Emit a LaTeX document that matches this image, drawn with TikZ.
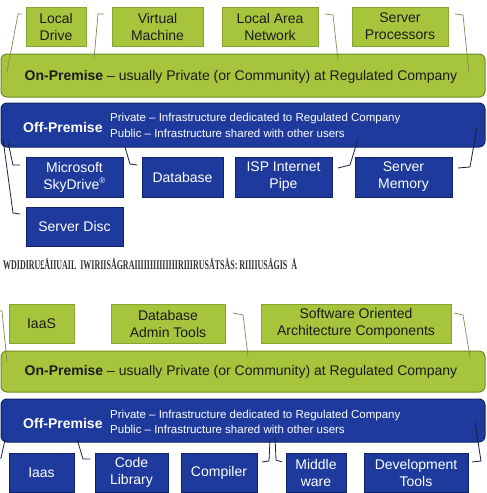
\documentclass[tikz,border=0pt]{standalone}
\usepackage{fontspec}
\setmainfont{Liberation Sans}
\newfontfamily\garbfont{Liberation Serif}
\definecolor{gfill}{HTML}{A6C53C}
\definecolor{gbord}{HTML}{86A52E}
\definecolor{gbarbord}{HTML}{6E8C20}
\definecolor{gtext}{HTML}{1B1B1B}
\definecolor{glinec}{HTML}{7D8C55}
\definecolor{bfill}{HTML}{1D3A9C}
\definecolor{bbord}{HTML}{0F2467}
\definecolor{blinec}{HTML}{18213F}
\tikzset{
  gbox/.style={draw=gbord, fill=gfill, line width=0.8pt, text=gtext, align=center,
    inner sep=0pt, font=\fontsize{14}{17}\selectfont},
  bbox/.style={draw=bbord, fill=bfill, line width=0.8pt, text=white, align=center,
    inner sep=0pt, font=\fontsize{14}{17}\selectfont},
  gbar/.style={draw=gbarbord, fill=gfill, line width=1pt, rounded corners=6pt,
    minimum width=484pt, inner sep=0pt},
  bbar/.style={draw=bbord, fill=bfill, line width=1pt, rounded corners=6pt,
    minimum width=484pt, inner sep=0pt},
  bartext/.style={text=gtext, font=\fontsize{14}{17}\selectfont, inner sep=0pt},
  offtitle/.style={text=white, font=\fontsize{14}{17}\selectfont\bfseries, inner sep=0pt, anchor=west},
  offlines/.style={text=white, font=\fontsize{11.5}{16}\selectfont, inner sep=0pt, anchor=west, align=left},
  gline/.style={draw=glinec, line width=0.7pt},
  bline/.style={draw=blinec, line width=0.8pt},
}
\begin{document}
\begin{tikzpicture}[x=1pt,y=-1pt]
\useasboundingbox[fill=white] (0,0) rectangle (487,493);

% ---------- top section ----------
\node[gbar, minimum height=43pt] (onp1) at (243,75.5) {};
\node[bartext] (onp1t) at (241,77) {\textbf{On-Premise} – usually Private (or Community) at Regulated Company};
\node[gbox, minimum width=60pt, minimum height=39pt] (ld) at (56,26.5) {Local\\Drive};
\node[gbox, minimum width=91pt, minimum height=39pt] (vm) at (157.5,26.5) {Virtual\\Machine};
\node[gbox, minimum width=96pt, minimum height=39pt] (lan) at (270,26.5) {Local Area\\Network};
\node[gbox, minimum width=96pt, minimum height=39pt] (sp) at (400,26.5) {Server\\Processors};

\draw[gline] (22,14) -- (18,14) -- (7,72);
\draw[gline] (104,14) -- (98,14) -- (94,59);
\draw[gline] (325,14) -- (333,15) -- (338,60);
\draw[gline] (455,14) -- (463,15) -- (469,73);

\node[bbar, minimum height=44pt] (offp1) at (243,125) {};
\node[offtitle] (offp1t) at (23,127) {Off-Premise};
\node[offlines] (offp1l) at (110,125) {Private – Infrastructure dedicated to Regulated Company\\Public – Infrastructure shared with other users};

\node[bbox, minimum width=97pt, minimum height=40pt] (msd) at (74.5,177) {Microsoft\\SkyDrive\textsuperscript{\fontsize{8}{8}\selectfont®}};
\node[bbox, minimum width=81pt, minimum height=40pt] (db) at (182.5,177) {Database};
\node[bbox, minimum width=97pt, minimum height=40pt] (isp) at (283.5,177) {ISP Internet\\Pipe};
\node[bbox, minimum width=97pt, minimum height=40pt] (sm) at (403.5,177) {Server\\Memory};
\node[bbox, minimum width=97pt, minimum height=39pt] (sd) at (74.5,226.5) {Server Disc};

\draw[bline] (3,139) -- (13,213) -- (20,214);
\draw[bline] (8,142) -- (13,165) -- (20,165);
\draw[bline] (125,147) -- (130,164) -- (137,165);
\draw[bline] (358,139) -- (350,165) -- (338,168);
\draw[bline] (477,127) -- (470,167) -- (458,168);

% ---------- garbled caption ----------
\node[anchor=west, inner sep=0pt, text=black!80] (garb) at (3,264)
  {\resizebox{294pt}{11pt}{\garbfont\bfseries WDIDIRU£ÅIIUAIL\ \ IWIRIISÅGRAIIIIIIIIIIIIIIRIIIRUSÅTSÅS: RIIIIUSÅGIS\ \ Å}};

% ---------- bottom section ----------
\node[gbar, minimum height=41pt] (onp2) at (243,371.5) {};
\node[bartext] (onp2t) at (241,372) {\textbf{On-Premise} – usually Private (or Community) at Regulated Company};
\node[gbox, minimum width=65pt, minimum height=39pt] (iaas) at (41.5,323.5) {IaaS};
\node[gbox, minimum width=114pt, minimum height=39pt] (dbat) at (168,323.5) {Database\\Admin Tools};
\node[gbox, minimum width=190pt, minimum height=39pt] (soa) at (356,323.5) {Software Oriented\\Architecture Components};

\draw[gline] (0,311) -- (2,311) -- (7,362);
\draw[gline] (233,313) -- (243,315) -- (248,356);
\draw[gline] (454,313) -- (463,315) -- (470,357);

\node[bbar, minimum height=43pt] (offp2) at (243,420.5) {};
\node[offtitle] (offp2t) at (23,423) {Off-Premise};
\node[offlines, font=\fontsize{11.5}{15}\selectfont] (offp2l) at (110,421.5) {Private – Infrastructure dedicated to Regulated Company\\Public – Infrastructure shared with other users};

\node[bbox, minimum width=65pt, minimum height=39pt] (iaas2) at (41.5,472.5) {Iaas};
\node[bbox, minimum width=73pt, minimum height=39pt] (cl) at (131.5,472.5) {Code\\Library};
\node[bbox, minimum width=76pt, minimum height=39pt] (comp) at (219,472.5) {Compiler};
\node[bbox, minimum width=60pt, minimum height=39pt] (mw) at (316,472.5) {Middle\\ware};
\node[bbox, minimum width=104pt, minimum height=39pt] (dt) at (416,472.5) {Development\\Tools};

\draw[bline] (5,440) -- (1,458) -- (0,458);
\draw[bline] (77,439) -- (83,459) -- (90,459);
\draw[bline] (270,440) -- (269,461) -- (262,462);
\draw[bline] (275,437) -- (276,460) -- (282,462);
\draw[bline] (475,422) -- (481,461) -- (472,462);
\end{tikzpicture}
\end{document}
